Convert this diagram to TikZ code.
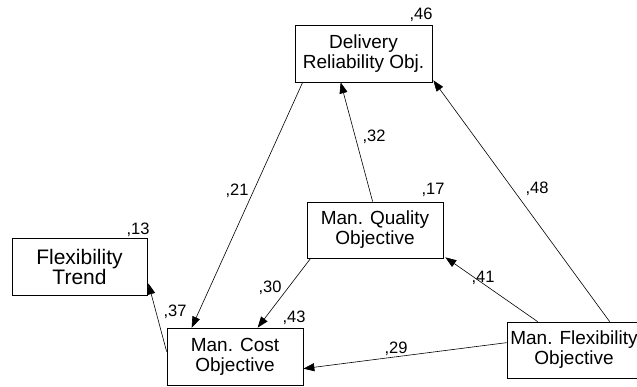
\documentclass[tikz,border=0pt]{standalone}
\usepackage{fontspec}
\setmainfont{Liberation Sans}
\usetikzlibrary{arrows.meta}
\begin{document}
\begin{tikzpicture}[x=1pt,y=-1pt,
  box/.style={draw,line width=0.7pt,inner sep=0pt,align=center,font=\fontsize{19}{20}\selectfont},
  coef/.style={inner sep=0pt,font=\fontsize{16.5}{17}\selectfont},
  conn/.style={line width=0.6pt,-{Triangle[length=11pt,width=8pt]}}]
\fill[white] (0,0) rectangle (637,387);
\useasboundingbox (0,0) rectangle (637,387);
% boxes
\node[box,minimum width=137pt,minimum height=57pt] (del) at (363.5,53.5) {Delivery\\Reliability Obj.};
\node[box,minimum width=135pt,minimum height=57pt,font=\fontsize{21}{20}\selectfont] (trend) at (79.5,266.5) {Flexibility\\Trend};
\node[box,minimum width=160pt,minimum height=56pt] (flex) at (587,350) {\hspace*{-26pt}Man. Flexibility\\\hspace*{-26pt}Objective};
\node[box,minimum width=136pt,minimum height=57pt] (cost) at (235,356.5) {Man. Cost\\Objective};
\node[box,minimum width=136pt,minimum height=56pt] (qual) at (375,230) {Man. Quality\\Objective};
% coefficients
\node[coef] (c46) at (421,15) {,46};
\node[coef] (c13) at (138,230) {,13};
\node[coef] (c43) at (294,318) {,43};
\node[coef] (c17) at (433,190) {,17};
\node[coef] (c21) at (237,191) {,21};
\node[coef] (c32) at (374,137) {,32};
\node[coef] (c48) at (537,189) {,48};
\node[coef] (c30) at (270,288) {,30};
\node[coef] (c41) at (483,278) {,41};
\node[coef] (c29) at (396,349) {,29};
\node[coef] (c37) at (175,312) {,37};
% connectors
\draw[conn] ([xshift=8pt]del.south west) -- ([xshift=25pt]cost.north west);
\draw[conn] ([xshift=66pt]qual.north west) -- ([xshift=46pt]del.south west);
\draw[conn] ([xshift=103pt]flex.north west) -- ([xshift=1pt,yshift=2pt]del.south east);
\draw[conn] ([xshift=4pt]qual.south west) -- ([xshift=91pt]cost.north west);
\draw[conn] ([xshift=31pt]flex.north west) -- ([xshift=2pt,yshift=1pt]qual.south east);
\draw[conn] ([yshift=-21pt]flex.north west) -- ([yshift=-41pt]cost.north east);
\draw[conn] ([yshift=-24pt]cost.north west) -- ([xshift=1pt,yshift=12pt]trend.south east);
\end{tikzpicture}
\end{document}
